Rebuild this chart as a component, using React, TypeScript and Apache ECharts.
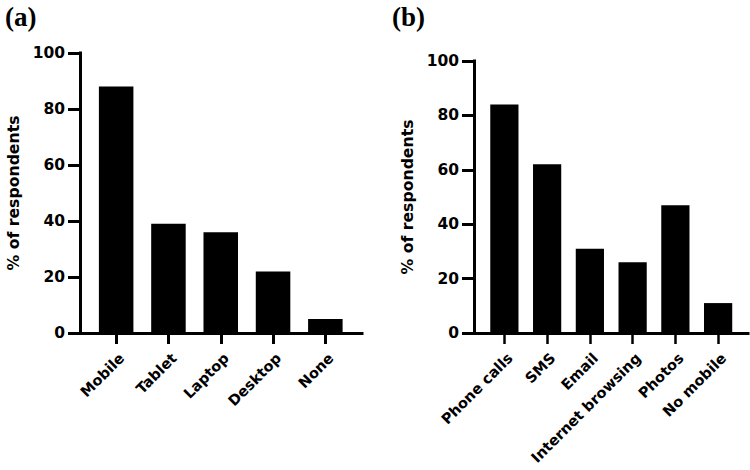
import React, { useEffect, useRef } from "react";
import * as echarts from "echarts";

const devicesCategories = ["Mobile", "Tablet", "Laptop", "Desktop", "None"];
const devicesValues = [88, 39, 36, 22, 5];
const usesCategories = ["Phone calls", "SMS", "Email", "Internet browsing", "Photos", "No mobile"];
const usesValues = [84, 62, 31, 26, 47, 11];
const yTicks = [0, 20, 40, 60, 80, 100];
const panelTitles = ["(a)", "(b)"];
const yAxisName = "% of respondents";

const FONT = "DejaVu Sans";
const LW = 3;

export default function App() {
  const ref = useRef<HTMLDivElement>(null);
  useEffect(() => {
    if (!ref.current) return;
    const chart = echarts.init(ref.current, undefined, { renderer: "svg" });
    const yMin = yTicks[0];
    const yMax = yTicks[yTicks.length - 1];
    const yInterval = yTicks[1] - yTicks[0];

    const frameX = (gridIndex: number) => ({
      type: "value",
      gridIndex,
      min: 0,
      max: 1,
      z: 10,
      axisLine: { show: true, lineStyle: { color: "#000", width: LW, cap: "square" } },
      axisTick: { show: false },
      axisLabel: { show: false },
      splitLine: { show: false },
    });
    const frameY = (gridIndex: number) => ({
      type: "value",
      gridIndex,
      min: yMin,
      max: yMax,
      interval: yInterval,
      z: 10,
      name: yAxisName,
      nameLocation: "middle",
      nameGap: 59,
      nameTextStyle: { fontFamily: FONT, fontWeight: "bold", fontSize: 15.7, color: "#000" },
      axisLine: { show: true, lineStyle: { color: "#000", width: LW, cap: "square" } },
      axisTick: { show: true, length: 12, lineStyle: { color: "#000", width: LW } },
      axisLabel: { fontFamily: FONT, fontWeight: "bold", fontSize: 15.5, color: "#000", margin: 15 },
      splitLine: { show: false },
    });
    const barX = (gridIndex: number, data: string[], tickWidth: number) => ({
      type: "category",
      gridIndex,
      data,
      axisLine: { show: false },
      axisTick: { show: true, alignWithLabel: true, length: 11, lineStyle: { color: "#000", width: tickWidth } },
      axisLabel: {
        interval: 0,
        rotate: 45,
        margin: 17,
        align: "right",
        verticalAlign: "top",
        fontFamily: FONT,
        fontWeight: "bold",
        fontSize: 14.6,
        color: "#000",
      },
      splitLine: { show: false },
    });
    const barY = (gridIndex: number) => ({
      type: "value",
      gridIndex,
      min: yMin,
      max: yMax,
      show: false,
    });

    chart.setOption({
      animation: false,
      backgroundColor: "#fff",
      title: [
        {
          text: panelTitles[0],
          left: 0,
          top: -2,
          textStyle: { fontFamily: "Liberation Serif", fontWeight: "bold", fontSize: 27, color: "#000" },
        },
        {
          text: panelTitles[1],
          left: 387,
          top: -2,
          textStyle: { fontFamily: "Liberation Serif", fontWeight: "bold", fontSize: 27, color: "#000" },
        },
      ],
      grid: [
        { left: 80, width: 282, top: 53, bottom: 137, outerBoundsMode: "none", containLabel: false },
        { left: 90, width: 261.5, top: 53, bottom: 137, outerBoundsMode: "none", containLabel: false },
        { left: 474, width: 274, top: 61, bottom: 137, outerBoundsMode: "none", containLabel: false },
        { left: 483, width: 256.5, top: 61, bottom: 137, outerBoundsMode: "none", containLabel: false },
      ],
      xAxis: [frameX(0), barX(1, devicesCategories, 3), frameX(2), barX(3, usesCategories, 2.5)],
      yAxis: [frameY(0), barY(1), frameY(2), barY(3)],
      series: [
        {
          type: "bar",
          xAxisIndex: 1,
          yAxisIndex: 1,
          data: devicesValues,
          barWidth: "66%",
          itemStyle: { color: "#000" },
        },
        {
          type: "bar",
          xAxisIndex: 3,
          yAxisIndex: 3,
          data: usesValues,
          barWidth: "66%",
          itemStyle: { color: "#000" },
        },
      ],
    });
    return () => chart.dispose();
  }, []);
  return <div ref={ref} style={{ position: "fixed", left: 0, top: 0, width: 750, height: 470 }} />;
}
